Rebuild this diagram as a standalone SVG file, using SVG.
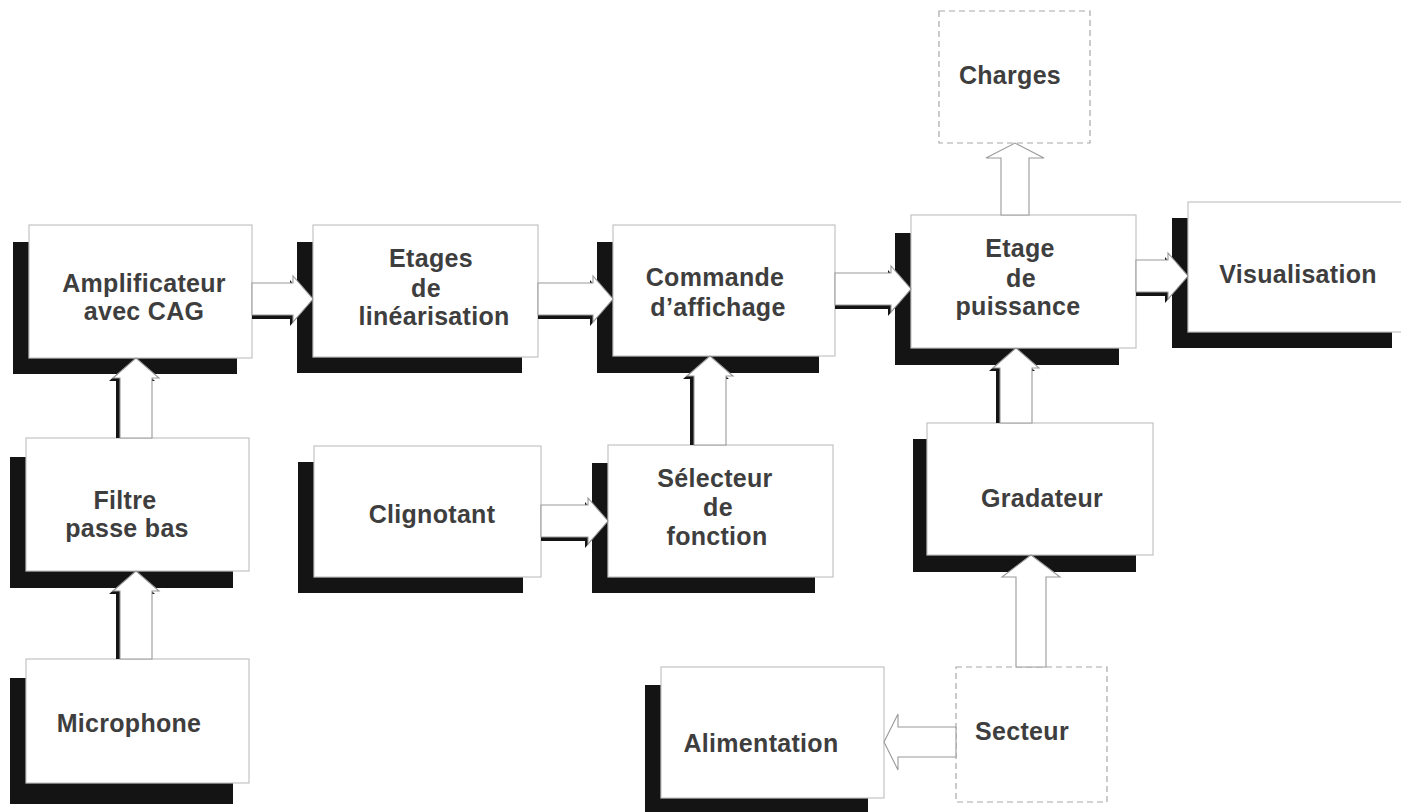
<svg xmlns="http://www.w3.org/2000/svg" width="1401" height="812" viewBox="0 0 1401 812">
<style>
.bg{fill:#ffffff}
.sh{fill:#141414}
.box{fill:#ffffff;stroke:#c4c4c4;stroke-width:1.2}
.dash{fill:#ffffff;stroke:#a8a8a8;stroke-width:1.2;stroke-dasharray:6 4}
.lbl{font-family:"Liberation Sans",Arial,Helvetica,sans-serif;font-size:25px;font-weight:bold;fill:#3e3e3e;letter-spacing:0.3px;text-anchor:middle}
.aw{fill:#ffffff;stroke:#9a9a9a;stroke-width:1.1;stroke-linejoin:miter}
.as{fill:#141414}
</style>
<rect class="bg" x="0" y="0" width="1401" height="812"/>

<g id="node-amplificateur">
<rect class="sh" x="13" y="242" width="224" height="132"/>
<rect class="box" x="29" y="225" width="223" height="133"/>
<text class="lbl" x="144" y="292">Amplificateur</text>
<text class="lbl" x="144" y="320">avec CAG</text>
</g>

<g id="node-filtre">
<rect class="sh" x="10" y="457" width="223" height="131"/>
<rect class="box" x="26" y="438" width="223" height="133"/>
<text class="lbl" x="125" y="509">Filtre</text>
<text class="lbl" x="127" y="537">passe bas</text>
</g>

<g id="node-microphone">
<rect class="sh" x="10" y="678" width="223" height="126"/>
<rect class="box" x="26" y="659" width="223" height="124"/>
<text class="lbl" x="129" y="732">Microphone</text>
</g>

<g id="node-etages">
<rect class="sh" x="297" y="242" width="225" height="131"/>
<rect class="box" x="313" y="225" width="225" height="132"/>
<text class="lbl" x="431" y="267">Etages</text>
<text class="lbl" x="426" y="297">de</text>
<text class="lbl" x="434" y="325">linéarisation</text>
</g>

<g id="node-clignotant">
<rect class="sh" x="298" y="462" width="225" height="131"/>
<rect class="box" x="314" y="446" width="227" height="131"/>
<text class="lbl" x="432" y="523">Clignotant</text>
</g>

<g id="node-commande">
<rect class="sh" x="597" y="242" width="222" height="131"/>
<rect class="box" x="613" y="225" width="222" height="131"/>
<text class="lbl" x="715" y="286">Commande</text>
<text class="lbl" x="718" y="316">d’affichage</text>
</g>

<g id="node-selecteur">
<rect class="sh" x="592" y="463" width="223" height="130"/>
<rect class="box" x="608" y="445" width="225" height="132"/>
<text class="lbl" x="715" y="487">Sélecteur</text>
<text class="lbl" x="718" y="516">de</text>
<text class="lbl" x="717" y="545">fonction</text>
</g>

<g id="node-charges">
<rect class="dash" x="939" y="11" width="151" height="132"/>
<text class="lbl" x="1010" y="84">Charges</text>
</g>

<g id="node-etage-puissance">
<rect class="sh" x="895" y="233" width="224" height="132"/>
<rect class="box" x="911" y="215" width="225" height="133"/>
<text class="lbl" x="1020" y="257">Etage</text>
<text class="lbl" x="1021" y="287">de</text>
<text class="lbl" x="1018" y="315">puissance</text>
</g>

<g id="node-visualisation">
<rect class="sh" x="1172" y="218" width="220" height="130"/>
<rect class="box" x="1188" y="202" width="240" height="130"/>
<text class="lbl" x="1298" y="283">Visualisation</text>
</g>

<g id="node-gradateur">
<rect class="sh" x="913" y="439" width="223" height="133"/>
<rect class="box" x="927" y="423" width="226" height="132"/>
<text class="lbl" x="1042" y="507">Gradateur</text>
</g>

<g id="node-alimentation">
<rect class="sh" x="645" y="685" width="223" height="130"/>
<rect class="box" x="661" y="667" width="223" height="131"/>
<text class="lbl" x="761" y="752">Alimentation</text>
</g>

<g id="node-secteur">
<rect class="dash" x="956" y="667" width="151" height="135"/>
<text class="lbl" x="1022" y="740">Secteur</text>
</g>

<g id="connectors">
<!-- Amplificateur -> Etages -->
<polygon class="as" points="252,287 290,287 290,280 310,303 290,326 290,319 252,319"/>
<polygon class="aw" points="252,283 293,283 293,276 313,299 293,322 293,315 252,315"/>
<!-- Etages -> Commande -->
<polygon class="as" points="538,287 590,287 590,280 610,303 590,326 590,319 538,319"/>
<polygon class="aw" points="538,283 593,283 593,276 613,299 593,322 593,315 538,315"/>
<!-- Commande -> Etage de puissance -->
<polygon class="as" points="835,277 888,277 888,270 908,293 888,316 888,309 835,309"/>
<polygon class="aw" points="835,273 891,273 891,266 911,289 891,312 891,305 835,305"/>
<!-- Etage de puissance -> Visualisation -->
<polygon class="as" points="1136,264 1165,264 1165,257 1185,280 1165,303 1165,296 1136,296"/>
<polygon class="aw" points="1136,260 1168,260 1168,253 1188,276 1168,299 1168,292 1136,292"/>
<!-- Clignotant -> Selecteur -->
<polygon class="as" points="541,509 585,509 585,502 605,525 585,548 585,541 541,541"/>
<polygon class="aw" points="541,505 588,505 588,498 608,521 588,544 588,537 541,537"/>
<!-- Filtre -> Amplificateur -->
<polygon class="as" points="116,438 116,381 109,381 132,361 155,381 148,381 148,438"/>
<polygon class="aw" points="120,438 120,378 113,378 136,358 159,378 152,378 152,438"/>
<!-- Microphone -> Filtre -->
<polygon class="as" points="116,659 116,594 109,594 132,574 155,594 148,594 148,659"/>
<polygon class="aw" points="120,659 120,591 113,591 136,571 159,591 152,591 152,659"/>
<!-- Selecteur -> Commande -->
<polygon class="as" points="690,445 690,379 683,379 706,359 729,379 722,379 722,445"/>
<polygon class="aw" points="694,445 694,376 687,376 710,356 733,376 726,376 726,445"/>
<!-- Gradateur -> Etage de puissance -->
<polygon class="as" points="996,423 996,371 989,371 1012,351 1035,371 1028,371 1028,423"/>
<polygon class="aw" points="1000,423 1000,368 993,368 1016,348 1039,368 1032,368 1032,423"/>
<!-- Etage de puissance -> Charges -->
<polygon class="aw" points="1001,215 1001,158 986,158 1015,143 1044,158 1029,158 1029,215"/>
<!-- Secteur -> Gradateur -->
<polygon class="aw" points="1016,667 1016,577 1002,577 1031,555 1060,577 1046,577 1046,667"/>
<!-- Secteur -> Alimentation -->
<polygon class="aw" points="956,727 898,727 898,714 884,742 898,770 898,757 956,757"/>
</g>
</svg>
